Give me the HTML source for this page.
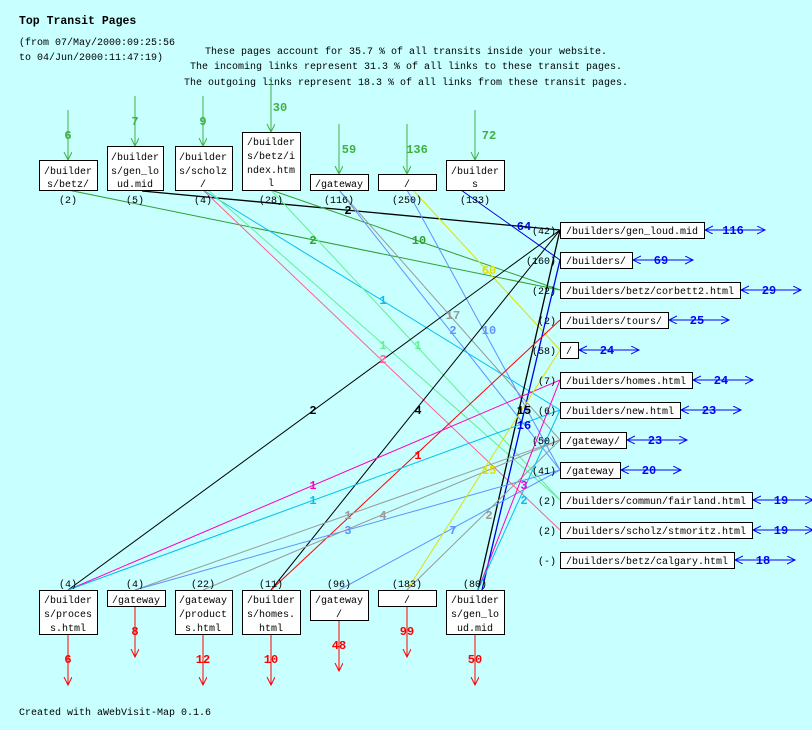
<!DOCTYPE html>
<html><head><meta charset="utf-8"><style>
html,body{margin:0;padding:0;background:#c8ffff;}
svg{display:block;}
text{font-family:"Liberation Mono","DejaVu Sans Mono",monospace;}
.n{font-size:10px;fill:#000;}
.h{font-size:10px;fill:#000;}
.b{font-size:12px;font-weight:bold;}
</style></head><body>
<svg width="812" height="730" viewBox="0 0 812 730" xmlns="http://www.w3.org/2000/svg">
<defs>
<marker id="ag" markerWidth="10" markerHeight="10" refX="8" refY="4" orient="auto" markerUnits="userSpaceOnUse"><path d="M0,0 L8,4 L0,8" fill="none" stroke="#40b040"/></marker>
<marker id="ar" markerWidth="10" markerHeight="10" refX="8" refY="4" orient="auto" markerUnits="userSpaceOnUse"><path d="M0,0 L8,4 L0,8" fill="none" stroke="#ff0000"/></marker>
<marker id="ab" markerWidth="10" markerHeight="10" refX="8" refY="4" orient="auto-start-reverse" markerUnits="userSpaceOnUse"><path d="M0,0 L8,4 L0,8" fill="none" stroke="#0000ff"/></marker>
</defs>
<rect width="812" height="730" fill="#c8ffff"/>
<text x="19" y="24" style="font-size:11.5px;font-weight:bold">Top Transit Pages</text>
<text x="19" y="45" class="h">(from 07/May/2000:09:25:56</text>
<text x="19" y="60" class="h">to 04/Jun/2000:11:47:19)</text>
<text x="406" y="54" class="h" text-anchor="middle">These pages account for 35.7 % of all transits inside your website.</text>
<text x="406" y="69" class="h" text-anchor="middle">The incoming links represent 31.3 % of all links to these transit pages.</text>
<text x="406" y="85" class="h" text-anchor="middle">The outgoing links represent 18.3 % of all links from these transit pages.</text>
<text x="19" y="715" class="n">Created with aWebVisit-Map 0.1.6</text>

<g fill="none" stroke-width="1">
<line x1="142" y1="191" x2="560" y2="230" stroke="#000" stroke-width="1.3"/>
<line x1="68" y1="190" x2="560" y2="290" stroke="#30a030"/>
<line x1="271" y1="190" x2="560" y2="290" stroke="#30a030"/>
<line x1="461" y1="190" x2="560" y2="260" stroke="#0000e0"/>
<line x1="413" y1="190" x2="560" y2="350" stroke="#e0e000"/>
<line x1="203" y1="190" x2="560" y2="410" stroke="#00c0f0"/>
<line x1="208" y1="190" x2="560" y2="500" stroke="#60f090"/>
<line x1="271" y1="190" x2="560" y2="500" stroke="#60f090"/>
<line x1="203" y1="190" x2="560" y2="530" stroke="#ff6090"/>
<line x1="339" y1="190" x2="560" y2="440" stroke="#999"/>
<line x1="339" y1="190" x2="560" y2="470" stroke="#6090ff"/>
<line x1="407" y1="190" x2="560" y2="470" stroke="#6090ff"/>

<line x1="68" y1="590" x2="560" y2="230" stroke="#000"/>
<line x1="271" y1="590" x2="560" y2="230" stroke="#000"/>
<line x1="478" y1="590" x2="560" y2="230" stroke="#000" stroke-width="1.3"/>
<line x1="482" y1="590" x2="560" y2="260" stroke="#0000e0" stroke-width="1.3"/>
<line x1="271" y1="590" x2="560" y2="320" stroke="#ff0000"/>
<line x1="68" y1="590" x2="560" y2="380" stroke="#ff00c0"/>
<line x1="68" y1="590" x2="560" y2="410" stroke="#00c0f0"/>
<line x1="135" y1="590" x2="560" y2="440" stroke="#999"/>
<line x1="135" y1="590" x2="560" y2="470" stroke="#6090ff"/>
<line x1="203" y1="590" x2="560" y2="440" stroke="#999"/>
<line x1="339" y1="590" x2="560" y2="470" stroke="#6090ff"/>
<line x1="407" y1="590" x2="560" y2="350" stroke="#e0e000"/>
<line x1="407" y1="590" x2="560" y2="440" stroke="#999"/>
<line x1="478" y1="590" x2="560" y2="380" stroke="#ff00c0"/>
<line x1="478" y1="590" x2="560" y2="410" stroke="#00c0f0"/>
</g>

<g class="b" text-anchor="middle">
<text x="348" y="214" fill="#000">2</text>
<text x="313" y="244" fill="#30a030">2</text>
<text x="419" y="244" fill="#30a030">10</text>
<text x="524" y="230" fill="#0000e0">64</text>
<text x="489" y="274" fill="#e0e000">60</text>
<text x="383" y="304" fill="#00c0f0">1</text>
<text x="383" y="349" fill="#60f090">1</text>
<text x="418" y="349" fill="#60f090">1</text>
<text x="383" y="363" fill="#ff6090">2</text>
<text x="453" y="319" fill="#999">17</text>
<text x="453" y="334" fill="#6090ff">2</text>
<text x="489" y="334" fill="#6090ff">10</text>
<text x="313" y="414" fill="#000">2</text>
<text x="418" y="414" fill="#000">4</text>
<text x="524" y="414" fill="#000">15</text>
<text x="524" y="429" fill="#0000e0">16</text>
<text x="418" y="459" fill="#ff0000">1</text>
<text x="313" y="489" fill="#ff00c0">1</text>
<text x="313" y="504" fill="#00c0f0">1</text>
<text x="348" y="519" fill="#999">1</text>
<text x="348" y="534" fill="#6090ff">3</text>
<text x="383" y="519" fill="#999">4</text>
<text x="453" y="534" fill="#6090ff">7</text>
<text x="489" y="474" fill="#e0e000">15</text>
<text x="489" y="519" fill="#999">2</text>
<text x="524" y="489" fill="#ff00c0">3</text>
<text x="524" y="504" fill="#00c0f0">2</text>
</g>

<g stroke="#40b040" fill="none">
<line x1="68" y1="110" x2="68" y2="160" marker-end="url(#ag)"/>
<line x1="135" y1="96" x2="135" y2="146" marker-end="url(#ag)"/>
<line x1="203" y1="96" x2="203" y2="146" marker-end="url(#ag)"/>
<line x1="271" y1="82" x2="271" y2="132" marker-end="url(#ag)"/>
<line x1="339" y1="124" x2="339" y2="174" marker-end="url(#ag)"/>
<line x1="407" y1="124" x2="407" y2="174" marker-end="url(#ag)"/>
<line x1="475" y1="110" x2="475" y2="160" marker-end="url(#ag)"/>
</g>
<g class="b" fill="#40b040" text-anchor="middle">
<text x="68" y="139">6</text><text x="135" y="125">7</text><text x="203" y="125">9</text>
<text x="280" y="111">30</text><text x="349" y="153">59</text><text x="417" y="153">136</text><text x="489" y="139">72</text>
</g>
<g fill="#fff" stroke="#000">
<rect x="39.5" y="160.5" width="58" height="30"/>
<rect x="107.5" y="146.5" width="56" height="44"/>
<rect x="175.5" y="146.5" width="57" height="44"/>
<rect x="242.5" y="132.5" width="58" height="58"/>
<rect x="310.5" y="174.5" width="58" height="16"/>
<rect x="378.5" y="174.5" width="58" height="16"/>
<rect x="446.5" y="160.5" width="58" height="30"/>
</g>
<g class="n" text-anchor="middle">
<text x="68" y="174">/builder</text><text x="68" y="187">s/betz/</text>
<text x="135" y="160">/builder</text><text x="135" y="174">s/gen_lo</text><text x="135" y="187">ud.mid</text>
<text x="203" y="160">/builder</text><text x="203" y="174">s/scholz</text><text x="203" y="187">/</text>
<text x="271" y="145">/builder</text><text x="271" y="159">s/betz/i</text><text x="271" y="173">ndex.htm</text><text x="271" y="186">l</text>
<text x="339" y="187">/gateway</text>
<text x="407" y="187">/</text>
<text x="475" y="174">/builder</text><text x="475" y="187">s</text>
<text x="68" y="203">(2)</text><text x="135" y="203">(5)</text><text x="203" y="203">(4)</text><text x="271" y="203">(28)</text>
<text x="339" y="203">(116)</text><text x="407" y="203">(250)</text><text x="475" y="203">(133)</text>
</g>

<g stroke="#ff0000" fill="none">
<line x1="68" y1="634" x2="68" y2="685" marker-end="url(#ar)"/>
<line x1="135" y1="606" x2="135" y2="657" marker-end="url(#ar)"/>
<line x1="203" y1="634" x2="203" y2="685" marker-end="url(#ar)"/>
<line x1="271" y1="634" x2="271" y2="685" marker-end="url(#ar)"/>
<line x1="339" y1="620" x2="339" y2="671" marker-end="url(#ar)"/>
<line x1="407" y1="606" x2="407" y2="657" marker-end="url(#ar)"/>
<line x1="475" y1="634" x2="475" y2="685" marker-end="url(#ar)"/>
</g>
<g class="b" fill="#ff0000" text-anchor="middle">
<text x="68" y="663">6</text><text x="135" y="635">8</text><text x="203" y="663">12</text><text x="271" y="663">10</text>
<text x="339" y="649">48</text><text x="407" y="635">99</text><text x="475" y="663">50</text>
</g>
<g fill="#fff" stroke="#000">
<rect x="39.5" y="590.5" width="58" height="44"/>
<rect x="107.5" y="590.5" width="58" height="16"/>
<rect x="175.5" y="590.5" width="57" height="44"/>
<rect x="242.5" y="590.5" width="58" height="44"/>
<rect x="310.5" y="590.5" width="58" height="30"/>
<rect x="378.5" y="590.5" width="58" height="16"/>
<rect x="446.5" y="590.5" width="58" height="44"/>
</g>
<g class="n" text-anchor="middle">
<text x="68" y="603">/builder</text><text x="68" y="617">s/proces</text><text x="68" y="631">s.html</text>
<text x="136" y="603">/gateway</text>
<text x="203" y="603">/gateway</text><text x="203" y="617">/product</text><text x="203" y="631">s.html</text>
<text x="271" y="603">/builder</text><text x="271" y="617">s/homes.</text><text x="271" y="631">html</text>
<text x="339" y="603">/gateway</text><text x="339" y="617">/</text>
<text x="407" y="603">/</text>
<text x="475" y="603">/builder</text><text x="475" y="617">s/gen_lo</text><text x="475" y="631">ud.mid</text>
<text x="68" y="587">(4)</text><text x="135" y="587">(4)</text><text x="203" y="587">(22)</text><text x="271" y="587">(11)</text>
<text x="339" y="587">(96)</text><text x="407" y="587">(183)</text><text x="475" y="587">(80)</text>
</g>

<g stroke="#0000ff" fill="none">
<line x1="705" y1="230" x2="765" y2="230" marker-start="url(#ab)" marker-end="url(#ab)"/>
<line x1="633" y1="260" x2="693" y2="260" marker-start="url(#ab)" marker-end="url(#ab)"/>
<line x1="741" y1="290" x2="801" y2="290" marker-start="url(#ab)" marker-end="url(#ab)"/>
<line x1="669" y1="320" x2="729" y2="320" marker-start="url(#ab)" marker-end="url(#ab)"/>
<line x1="579" y1="350" x2="639" y2="350" marker-start="url(#ab)" marker-end="url(#ab)"/>
<line x1="693" y1="380" x2="753" y2="380" marker-start="url(#ab)" marker-end="url(#ab)"/>
<line x1="681" y1="410" x2="741" y2="410" marker-start="url(#ab)" marker-end="url(#ab)"/>
<line x1="627" y1="440" x2="687" y2="440" marker-start="url(#ab)" marker-end="url(#ab)"/>
<line x1="621" y1="470" x2="681" y2="470" marker-start="url(#ab)" marker-end="url(#ab)"/>
<line x1="753" y1="500" x2="813" y2="500" marker-start="url(#ab)" marker-end="url(#ab)"/>
<line x1="753" y1="530" x2="813" y2="530" marker-start="url(#ab)" marker-end="url(#ab)"/>
<line x1="735" y1="560" x2="795" y2="560" marker-start="url(#ab)" marker-end="url(#ab)"/>
</g>
<g class="b" fill="#0000ff" text-anchor="middle">
<text x="733" y="234">116</text><text x="661" y="264">69</text><text x="769" y="294">29</text><text x="697" y="324">25</text>
<text x="607" y="354">24</text><text x="721" y="384">24</text><text x="709" y="414">23</text><text x="655" y="444">23</text>
<text x="649" y="474">20</text><text x="781" y="504">19</text><text x="781" y="534">19</text><text x="763" y="564">18</text>
</g>
<g fill="#fff" stroke="#000">
<rect x="560.5" y="222.5" width="144" height="16"/>
<rect x="560.5" y="252.5" width="72" height="16"/>
<rect x="560.5" y="282.5" width="180" height="16"/>
<rect x="560.5" y="312.5" width="108" height="16"/>
<rect x="560.5" y="342.5" width="18" height="16"/>
<rect x="560.5" y="372.5" width="132" height="16"/>
<rect x="560.5" y="402.5" width="120" height="16"/>
<rect x="560.5" y="432.5" width="66" height="16"/>
<rect x="560.5" y="462.5" width="60" height="16"/>
<rect x="560.5" y="492.5" width="192" height="16"/>
<rect x="560.5" y="522.5" width="192" height="16"/>
<rect x="560.5" y="552.5" width="174" height="16"/>
</g>
<g class="n">
<text x="566" y="234">/builders/gen_loud.mid</text>
<text x="566" y="264">/builders/</text>
<text x="566" y="294">/builders/betz/corbett2.html</text>
<text x="566" y="324">/builders/tours/</text>
<text x="566" y="354">/</text>
<text x="566" y="384">/builders/homes.html</text>
<text x="566" y="414">/builders/new.html</text>
<text x="566" y="444">/gateway/</text>
<text x="566" y="474">/gateway</text>
<text x="566" y="504">/builders/commun/fairland.html</text>
<text x="566" y="534">/builders/scholz/stmoritz.html</text>
<text x="566" y="564">/builders/betz/calgary.html</text>
</g>
<g class="n" text-anchor="end">
<text x="556" y="234">(42)</text><text x="556" y="264">(160)</text><text x="556" y="294">(22)</text><text x="556" y="324">(2)</text>
<text x="556" y="354">(58)</text><text x="556" y="384">(7)</text><text x="556" y="414">(6)</text><text x="556" y="444">(50)</text>
<text x="556" y="474">(41)</text><text x="556" y="504">(2)</text><text x="556" y="534">(2)</text><text x="556" y="564">(-)</text>
</g>
</svg>
</body></html>
